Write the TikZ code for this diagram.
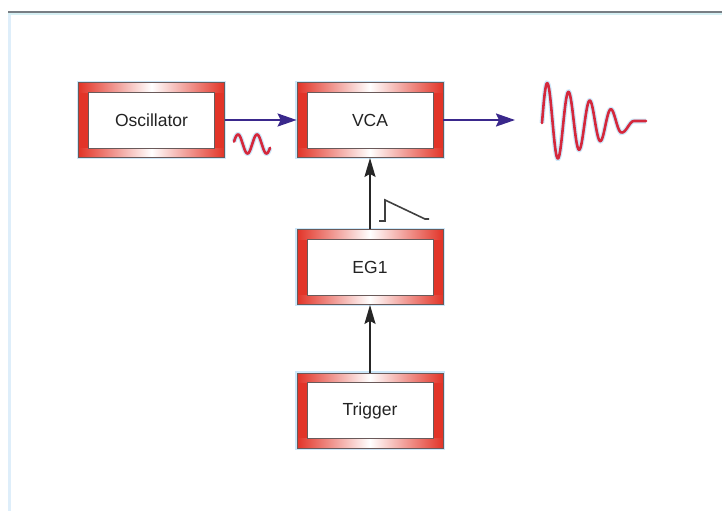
\documentclass[tikz,border=0pt]{standalone}
\usepackage{fontspec}
\setmainfont{Liberation Sans}
\usetikzlibrary{calc,arrows.meta}

\definecolor{boxred}{RGB}{226,52,40}
\definecolor{edgegray}{RGB}{105,90,90}
\definecolor{glow}{RGB}{205,232,250}
\definecolor{arrblue}{RGB}{58,40,140}
\definecolor{wavered}{RGB}{212,40,60}
\definecolor{txtgray}{RGB}{35,35,35}
\definecolor{rulegray}{RGB}{120,126,132}
\definecolor{rulecyan}{RGB}{214,240,244}
\definecolor{sidebar}{RGB}{222,238,250}

\tikzset{
  synth/.style={rectangle, minimum width=146pt, minimum height=75pt, inner sep=0pt,
    fill=boxred, draw=edgegray, line width=0.8pt,
    preaction={draw=glow, line width=3.5pt},
    text=txtgray, font=\fontsize{17.5}{20}\selectfont,
    path picture={
      \coordinate (ppsw) at (path picture bounding box.south west);
      \coordinate (ppne) at (path picture bounding box.north east);
      \shade[left color=boxred, right color=boxred, middle color=white]
        ($(ppsw|-ppne)+(0,-9.5pt)$) rectangle (ppne);
      \shade[left color=boxred, right color=boxred, middle color=white]
        (ppsw) rectangle ($(ppne|-ppsw)+(0,9.5pt)$);
      \filldraw[fill=white, draw=edgegray, line width=0.8pt]
        ($(ppsw)+(10pt,9.5pt)$) rectangle ($(ppne)+(-10pt,-9.5pt)$);
    }},
  bluearr/.style={draw=arrblue, line width=2pt,
    -{Stealth[length=19pt, width=13pt, inset=3pt]}},
  blackarr/.style={draw=black!85, line width=2pt,
    -{Stealth[length=19pt, width=11pt, inset=3pt]}},
  wave/.style={draw=wavered, line width=2.6pt, line join=round, line cap=round,
    preaction={draw=glow, line width=5pt}},
  envelope/.style={draw=black!75, line width=1.6pt, line join=miter}
}

\begin{document}
\begin{tikzpicture}[x=1pt, y=-1pt]
  \useasboundingbox (0,0) rectangle (722,511);

  % page frame: top rule and left side bar
  \fill[sidebar] (8,13) rectangle (10.8,511);
  \fill[rulegray] (8,10.8) rectangle (722,12.8);
  \fill[rulecyan] (8,12.8) rectangle (722,14.6);

  % modules
  \node[synth] (osc)  at (151.5,120)   {Oscillator};
  \node[synth] (vca)  at (370,120)     {VCA};
  \node[synth] (eg)   at (370,267)     {EG1};
  \node[synth] (trig) at (370,410.5)   {Trigger};
  \coordinate (out) at (515,120);

  % signal connectors
  \draw[bluearr]  (osc.east) -- (vca.west);
  \draw[bluearr]  (vca.east) -- (out);
  \draw[blackarr] (eg.north) -- (vca.south);
  \draw[blackarr] (trig.north) -- (eg.south);

  % oscillator waveform (period 19)
  \draw[wave] plot[domain=234:270, samples=70, variable=\t]
    (\t, {144 - 9.5*cos((\t-238)*18.947)});

  % decaying output waveform (period 21.3, linear decay)
  \draw[wave] plot[domain=542:621.9, samples=160, variable=\t]
      (\t, {123 - (40 - 0.41*(\t-547))*sin((\t-542)*16.901)})
    -- plot[domain=621.9:634, samples=20, variable=\t]
      (\t, {121 + 5.75*(1+cos((\t-621.9)*14.876))})
    -- (646,121);

  % envelope shape
  \draw[envelope] (379,221) -- (385,221) -- (385,200) -- (425,219) -- (429,219);
\end{tikzpicture}
\end{document}
